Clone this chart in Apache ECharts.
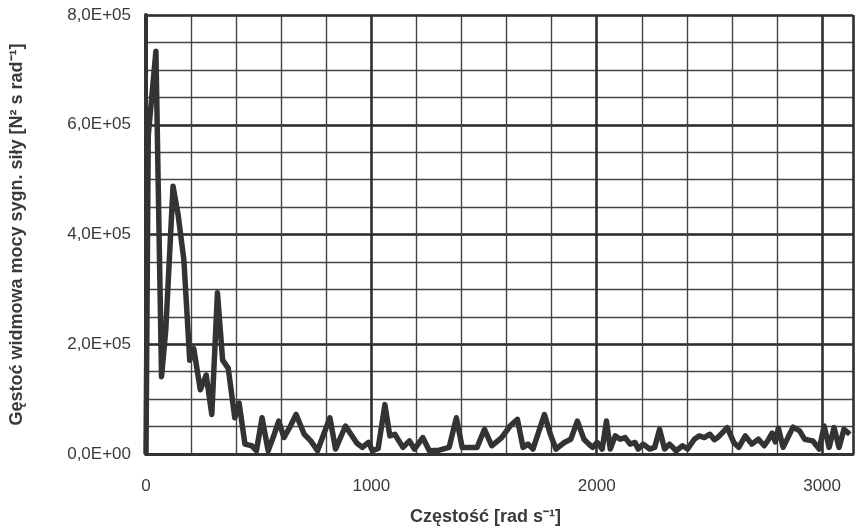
<!DOCTYPE html>
<html>
<head>
<meta charset="utf-8">
<script src="https://cdn.jsdelivr.net/npm/echarts@6/dist/echarts.min.js"></script>
<style>
  html, body { margin: 0; padding: 0; background: #fff; }
  #lineChart { width: 856px; height: 531px; }
</style>
</head>
<body>
<div id="lineChart"></div>
<script>
	//częstość [rad/s]
	var freq = [0, 10, 44, 69, 88, 120, 142, 168, 194, 212, 241, 267, 292, 317, 340, 365, 394, 413, 439, 469,
		490, 515, 542, 564, 589, 612, 637, 666, 702, 731, 761, 816, 841, 885, 935, 960, 987, 1005, 1030, 1060,
		1082, 1104, 1140, 1169, 1191, 1228, 1257, 1301, 1345, 1377, 1403, 1440, 1469, 1502, 1534, 1578, 1615, 1648, 1673, 1695,
		1717, 1768, 1794, 1819, 1856, 1885, 1914, 1943, 1965, 1982, 2002, 2024, 2043, 2060, 2082, 2104, 2126, 2148, 2170, 2184,
		2206, 2235, 2257, 2279, 2301, 2323, 2352, 2381, 2403, 2433, 2455, 2477, 2502, 2522, 2542, 2579, 2608, 2630, 2659, 2688,
		2717, 2743, 2760, 2778, 2792, 2806, 2827, 2871, 2900, 2922, 2958, 2987, 3009, 3031, 3053, 3075, 3097, 3123];
	//gęstość widmowa mocy [N2 s/rad]
	var psd = [0, 580000, 734000, 141000, 228000, 488000, 437000, 354000, 171000, 192000, 117000, 144000, 72000, 294000, 171000, 156000, 66000, 93000, 18000, 15000,
		6000, 66000, 6000, 30000, 60000, 30000, 48000, 72000, 36000, 24000, 6000, 66000, 9000, 51000, 20000, 12000, 21000, 6000, 10000, 90000,
		33000, 36000, 12000, 24000, 9000, 30000, 6000, 7000, 12000, 66000, 12000, 12000, 12000, 45000, 15000, 30000, 51000, 63000, 12000, 18000,
		9000, 72000, 36000, 9000, 21000, 27000, 60000, 27000, 18000, 12000, 21000, 9000, 60000, 9000, 33000, 27000, 30000, 18000, 21000, 9000,
		18000, 9000, 12000, 45000, 9000, 18000, 6000, 15000, 9000, 27000, 33000, 30000, 36000, 26000, 32000, 48000, 21000, 12000, 33000, 18000,
		27000, 15000, 25000, 38000, 22000, 47000, 12000, 49000, 42000, 27000, 24000, 9000, 51000, 12000, 48000, 12000, 45000, 36000];
	//podpisy osi
	var xTickValues = [0, 1000, 2000, 3000];
	var yTickValues = [0, 200000, 400000, 600000, 800000];
	var yTickLabels = ['0,0E+00', '2,0E+05', '4,0E+05', '6,0E+05', '8,0E+05'];

	var seriesData = [];
	for (var i = 0; i < freq.length; i++) {
		seriesData.push([freq[i], psd[i]]);
	}

	var textColor = '#3a3a3a';
	var chartOption = {
		animation: false,
		grid: {
			left: 143,
			right: -3,
			top: 15,
			bottom: 71
		},
		xAxis: [{
			type: 'value',
			min: 0,
			max: 3137,
			interval: 200,
			position: 'bottom',
			name: 'Częstość [rad s⁻¹]',
			nameLocation: 'middle',
			nameGap: 54,
			nameTextStyle: {
				color: textColor,
				fontFamily: 'Liberation Sans, Arial, sans-serif',
				fontWeight: 'bold',
				fontSize: 18,
				padding: [0, 28, 0, 0]
			},
			axisLine: { show: true, onZero: false, lineStyle: { color: '#333', width: 3 } },
			axisTick: { show: false },
			axisLabel: {
				color: textColor,
				fontFamily: 'Liberation Sans, Arial, sans-serif',
				fontSize: 17,
				margin: 24,
				formatter: function (v) {
					return xTickValues.indexOf(v) >= 0 ? String(v) : '';
				}
			},
			splitLine: { show: true, lineStyle: { color: '#444', width: 1.4 } }
		}, {
			type: 'value',
			min: 0,
			max: 3137,
			interval: 1000,
			position: 'top',
			axisLine: { show: false },
			axisTick: { show: false },
			axisLabel: { show: false },
			splitLine: { show: true, lineStyle: { color: '#2e2e2e', width: 2.5 } }
		}],
		yAxis: [{
			type: 'value',
			min: 0,
			max: 800000,
			interval: 50000,
			position: 'left',
			name: 'Gęstoć widmowa mocy sygn. siły [N² s rad⁻¹]',
			nameLocation: 'middle',
			nameGap: 120,
			nameTextStyle: {
				color: textColor,
				fontFamily: 'Liberation Sans, Arial, sans-serif',
				fontWeight: 'bold',
				fontSize: 18
			},
			axisLine: { show: true, lineStyle: { color: '#333', width: 4 } },
			axisTick: { show: false },
			axisLabel: {
				color: textColor,
				fontFamily: 'Liberation Sans, Arial, sans-serif',
				fontSize: 17,
				margin: 15,
				padding: [5, 0, 0, 0],
				formatter: function (v) {
					var k = yTickValues.indexOf(v);
					return k >= 0 ? yTickLabels[k] : '';
				}
			},
			splitLine: { show: true, lineStyle: { color: '#444', width: 1.4 } }
		}, {
			type: 'value',
			min: 0,
			max: 800000,
			interval: 200000,
			position: 'right',
			axisLine: { show: false },
			axisTick: { show: false },
			axisLabel: { show: false },
			splitLine: { show: true, lineStyle: { color: '#2e2e2e', width: 2.5 } }
		}],
		series: [{
			type: 'line',
			xAxisIndex: 0,
			yAxisIndex: 0,
			data: seriesData,
			symbol: 'none',
			smooth: false,
			lineStyle: { color: '#333', width: 5.5, join: 'round' },
			z: 5
		}]
	};

	var lineChart = echarts.init(document.getElementById('lineChart'), null, { renderer: 'canvas' });
	lineChart.setOption(chartOption);
</script>
</body>
</html>
